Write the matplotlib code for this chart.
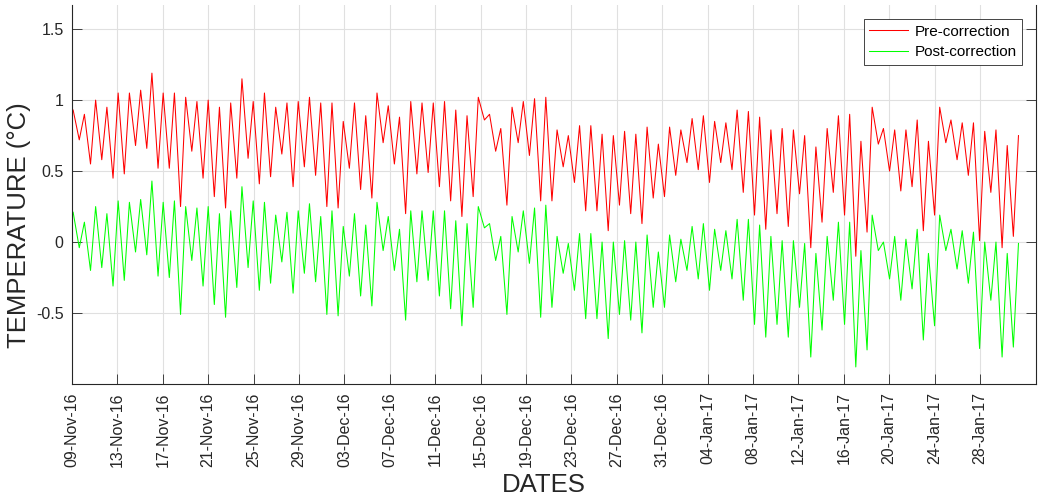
#!/bin/python
# temperature bias before / after correction, one peak and one trough per daily cycle

import matplotlib
matplotlib.use('Agg')
import matplotlib.dates as mdates  # type: ignore
import matplotlib.pyplot as plt  # type: ignore
import pandas as pd  # type: ignore
from typing import List

START_DATE = pd.Timestamp('2016-11-09')
CYCLE_DAYS = 0.9915    # the daily cycle drifts a little against the date axis
PEAK_OFFSET = 0.10
TROUGH_OFFSET = 0.64

# daily maxima / minima (deg C)
pre_peaks = [0.93, 0.90, 1.00, 0.95, 1.05, 1.05, 1.07, 1.19, 1.05, 1.05,
             1.02, 0.99, 1.00, 0.95, 0.98, 1.15, 0.99, 1.05, 0.95, 0.98,
             0.99, 1.02, 0.98, 0.98, 0.85, 0.98, 0.89, 1.05, 0.96, 0.88,
             0.99, 0.98, 0.98, 0.99, 0.93, 0.89, 1.02, 0.90, 0.80, 0.95,
             0.99, 1.01, 1.02, 0.79, 0.75, 0.82, 0.82, 0.76, 0.75, 0.78,
             0.76, 0.81, 0.69, 0.81, 0.79, 0.87, 0.89, 0.85, 0.84, 0.93,
             0.92, 0.88, 0.79, 0.80, 0.79, 0.75, 0.67, 0.80, 0.89, 0.90,
             0.71, 0.95, 0.80, 0.79, 0.79, 0.86, 0.71, 0.95, 0.86, 0.84,
             0.84, 0.78, 0.79, 0.68, 0.75]
pre_troughs = [0.72, 0.55, 0.58, 0.45, 0.48, 0.68, 0.66, 0.52, 0.52, 0.25,
               0.64, 0.45, 0.32, 0.24, 0.45, 0.59, 0.41, 0.46, 0.62, 0.39,
               0.53, 0.47, 0.25, 0.24, 0.52, 0.37, 0.31, 0.70, 0.55, 0.20,
               0.48, 0.49, 0.39, 0.29, 0.18, 0.32, 0.86, 0.64, 0.26, 0.70,
               0.61, 0.29, 0.29, 0.53, 0.42, 0.22, 0.22, 0.08, 0.26, 0.20,
               0.13, 0.31, 0.32, 0.47, 0.56, 0.51, 0.42, 0.56, 0.51, 0.35,
               0.19, 0.09, 0.20, 0.11, 0.34, -0.04, 0.14, 0.35, 0.19, -0.10,
               0.07, 0.69, 0.50, 0.36, 0.39, 0.08, 0.19, 0.70, 0.58, 0.47,
               0.01, 0.35, -0.04, 0.04]
post_peaks = [0.21, 0.14, 0.25, 0.20, 0.29, 0.28, 0.30, 0.43, 0.28, 0.29,
              0.25, 0.24, 0.25, 0.20, 0.22, 0.39, 0.29, 0.28, 0.19, 0.21,
              0.22, 0.27, 0.18, 0.22, 0.11, 0.20, 0.12, 0.28, 0.18, 0.09,
              0.22, 0.22, 0.22, 0.22, 0.15, 0.13, 0.25, 0.13, 0.04, 0.18,
              0.22, 0.24, 0.26, 0.04, -0.01, 0.06, 0.06, 0.00, 0.00, 0.01,
              0.00, 0.05, -0.07, 0.05, 0.02, 0.11, 0.13, 0.09, 0.08, 0.16,
              0.16, 0.12, 0.04, 0.01, 0.01, -0.01, -0.08, 0.04, 0.14, 0.14,
              -0.06, 0.19, 0.00, 0.04, 0.02, 0.09, -0.08, 0.19, 0.09, 0.08,
              0.07, 0.00, 0.00, -0.08, -0.01]
post_troughs = [-0.04, -0.20, -0.18, -0.31, -0.27, -0.07, -0.09, -0.24, -0.25, -0.51,
                -0.13, -0.31, -0.44, -0.53, -0.32, -0.18, -0.34, -0.29, -0.14, -0.36,
                -0.22, -0.28, -0.51, -0.52, -0.24, -0.38, -0.45, -0.06, -0.20, -0.55,
                -0.28, -0.27, -0.38, -0.47, -0.59, -0.46, 0.10, -0.13, -0.51, -0.07,
                -0.15, -0.53, -0.46, -0.22, -0.34, -0.54, -0.54, -0.68, -0.51, -0.55,
                -0.64, -0.46, -0.46, -0.28, -0.20, -0.26, -0.34, -0.20, -0.26, -0.41,
                -0.58, -0.67, -0.58, -0.67, -0.46, -0.81, -0.62, -0.41, -0.58, -0.88,
                -0.76, -0.06, -0.26, -0.41, -0.33, -0.69, -0.59, -0.06, -0.19, -0.29,
                -0.75, -0.41, -0.81, -0.74]

series_names = ['Pre-correction', 'Post-correction']
series_colors = ['#ff0000', '#00ff00']
tick_dates = pd.date_range('2016-11-09', '2017-01-28', freq='4D')


def cycle_series(peaks: List[float], troughs: List[float]) -> pd.Series:
  '''
  interleave the daily peaks and troughs into one time series
  '''
  days: List[float] = []
  values: List[float] = []
  for i in range(len(peaks)):
    days.append(PEAK_OFFSET + i * CYCLE_DAYS)
    values.append(peaks[i])
    if i < len(troughs):
      days.append(TROUGH_OFFSET + i * CYCLE_DAYS)
      values.append(troughs[i])
  return pd.Series(values, index=START_DATE + pd.to_timedelta(days, unit='D'))


plt.rcParams['font.family'] = ['Liberation Sans', 'DejaVu Sans']
W, H = 1041, 498
fig = plt.figure(figsize=(W / 100, H / 100), dpi=100)
left, right, top, bottom = 72, 1036, 5, 384
ax = fig.add_axes([left / W, 1 - bottom / H, (right - left) / W, (bottom - top) / H])

all_series = [cycle_series(pre_peaks, pre_troughs), cycle_series(post_peaks, post_troughs)]
for s, name, color in zip(all_series, series_names, series_colors):
  ax.plot(s.index, s.values, color=color, lw=0.75, label=name)

ax.set_xlim(START_DATE, START_DATE + pd.Timedelta(days=84.93))
ax.set_ylim(-1.0, 1.67)
ax.set_xticks(tick_dates)
ax.xaxis.set_major_formatter(mdates.DateFormatter('%d-%b-%y'))
ax.set_yticks([-0.5, 0, 0.5, 1, 1.5])
ax.set_yticklabels(['-0.5', '0', '0.5', '1', '1.5'])
plt.setp(ax.get_xticklabels(), rotation=90)

ax.grid(True, color='#e0e0e0', lw=0.8)
ax.set_axisbelow(True)
ax.tick_params(direction='in', length=7, width=0.6, colors='#262626', labelsize=11.5,
               right=True, pad=6)
for side in ['left', 'bottom', 'right']:
  ax.spines[side].set_color('#262626')
  ax.spines[side].set_linewidth(0.8)
ax.spines['top'].set_visible(False)

ax.set_xlabel('DATES', fontsize=18.5, color='#262626')
ax.set_ylabel('TEMPERATURE (°C)', fontsize=18.5, color='#262626')
ax.xaxis.set_label_coords(0.489, -0.236)
ax.yaxis.set_label_coords(-0.0425, 0.42)

leg = ax.legend(loc='upper right', bbox_to_anchor=(0.9855, 0.962), borderaxespad=0,
                fontsize=11, fancybox=False, framealpha=1, edgecolor='#262626',
                handlelength=2.5, borderpad=0.35, labelspacing=0.42, handletextpad=0.45)
leg.get_frame().set_linewidth(0.6)

plt.savefig('out.png', dpi=100)
